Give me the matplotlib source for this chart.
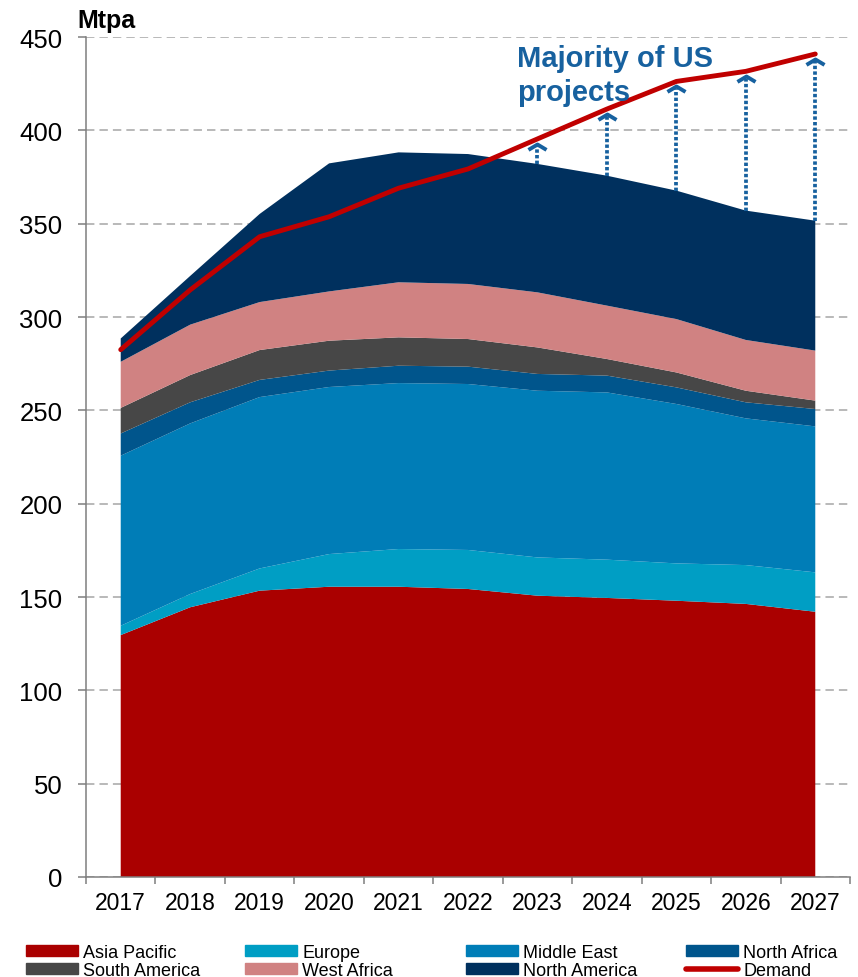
import numpy as np
import matplotlib
matplotlib.use("Agg")
import matplotlib.pyplot as plt
from matplotlib.patches import Patch
from matplotlib.lines import Line2D

plt.rcParams['font.family'] = ['Liberation Sans', 'DejaVu Sans']

# data (Mtpa)
years = ['2017', '2018', '2019', '2020', '2021', '2022', '2023', '2024', '2025', '2026', '2027']
asia_pacific = [129.6, 144.5, 153.4, 155.5, 155.5, 154.3, 150.7, 149.5, 148.0, 146.3, 142.1]
europe = [5.0, 7.1, 11.9, 17.5, 20.2, 20.9, 20.5, 20.5, 20.0, 20.8, 21.1]
middle_east = [91.1, 91.4, 91.8, 89.5, 88.9, 88.9, 89.3, 89.6, 85.4, 78.6, 78.2]
north_africa = [11.9, 11.3, 9.2, 8.8, 9.3, 9.3, 9.0, 9.0, 8.9, 8.6, 9.3]
south_america = [13.7, 14.6, 16.0, 16.0, 15.2, 14.8, 14.2, 8.9, 8.0, 6.2, 4.5]
west_africa = [24.7, 27.0, 25.7, 26.4, 29.5, 29.5, 29.5, 28.6, 28.6, 27.2, 26.8]
north_america = [12.5, 26.1, 47.2, 68.6, 69.6, 69.6, 68.8, 69.6, 68.8, 69.3, 69.6]
demand = [282.5, 314.5, 343.0, 353.7, 369.0, 379.3, 395.4, 411.4, 426.2, 431.6, 440.9]

names = ['Asia Pacific', 'Europe', 'Middle East', 'North Africa',
         'South America', 'West Africa', 'North America']
colors = ['#AA0000', '#009EC4', '#007DB7', '#00558C', '#474747', '#D08282', '#00305E']
series = [asia_pacific, europe, middle_east, north_africa, south_america, west_africa, north_america]

arrow_years = ['2023', '2024', '2025', '2026', '2027']
blue = '#17619f'
grey = '#7f7f7f'

fig = plt.figure(figsize=(8.58, 9.78), dpi=100)
ax = fig.add_axes([86/858, 100/978, 764/858, 840/978])

x = np.arange(len(years))
ax.stackplot(x, *series, colors=colors, labels=names, lw=0, zorder=2)
ax.plot(x, demand, color='#C00000', lw=3.5, solid_capstyle='round', zorder=4)

# arrows: stack top up to just under the demand line
supply = np.sum(series, axis=0)
for yr in arrow_years:
    i = years.index(yr)
    tip = demand[i] - 2.5
    ax.plot([i, i], [supply[i], tip - 1.5], color=blue, lw=2.7,
            linestyle=(0, (0.9, 0.6)), zorder=5)
    ax.plot(i, tip, marker=[(-1, -0.6), (0, 0), (1, -0.6)], ms=13,
            mfc='none', mec=blue, mew=2.8, zorder=6)

ax.text(5.7, 446.5, 'Majority of US\nprojects', color=blue, fontsize=21,
        fontweight='bold', ha='left', va='top', linespacing=1.3, zorder=7)

ax.set_xlim(-0.5, 10.5)
ax.set_ylim(0, 450)
ax.set_yticks(np.arange(0, 451, 50))
ax.set_xticks(x)
ax.set_xticklabels(years)
ax.set_xticks(np.arange(-0.5, 11, 1), minor=True)
ax.tick_params(axis='x', which='major', length=0, labelsize=16.5, pad=10)
ax.tick_params(axis='x', which='minor', length=5, width=1.1, color=grey)
ax.tick_params(axis='y', length=6, width=1.1, color=grey, labelsize=18.5, pad=11)

ax.set_axisbelow(True)
ax.yaxis.grid(True, linestyle=(0, (5.5, 3.3)), lw=1.1, color='#a6a6a6')
for s in ['top', 'right']:
    ax.spines[s].set_visible(False)
for s in ['left', 'bottom']:
    ax.spines[s].set_color(grey)
    ax.spines[s].set_linewidth(1.1)
    ax.spines[s].set_zorder(3)

fig.text(77/858, 1 - 28/978, 'Mtpa', fontsize=18, fontweight='bold', ha='left', va='baseline')

# legend, 4 columns laid out like the original
handles = [Patch(color=c, label=n) for c, n in zip(colors, names)]
handles.append(Line2D([], [], color='#C00000', lw=4, solid_capstyle='round', label='Demand'))
cols = [[0, 4], [1, 5], [2, 6], [3, 7]]
xpos = [26, 245, 466, 686]
for col, xp in zip(cols, xpos):
    fig.legend(handles=[handles[k] for k in col], loc='upper left',
               bbox_to_anchor=(xp/858, 1 - 945/978), frameon=False,
               fontsize=13, handlelength=2.86, handleheight=0.52,
               handletextpad=0.3, labelspacing=0.05, borderpad=0, borderaxespad=0)

fig.savefig('out.png', dpi=100)
